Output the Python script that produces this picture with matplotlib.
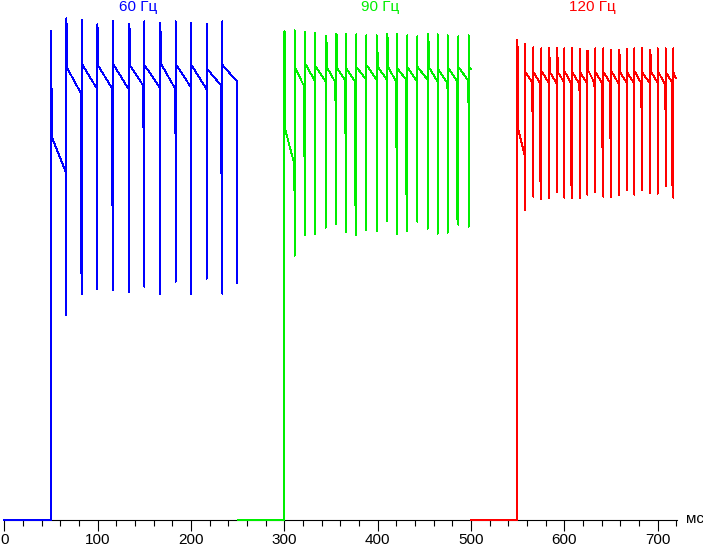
import numpy as np
import matplotlib
matplotlib.use("Agg")
import matplotlib.pyplot as plt
from matplotlib.ticker import MultipleLocator

# values are brightness in arbitrary units (0 = black), time in ms
# each frame: spike at t, top/bottom of the spike, an optional extra sample
# right after the spike, level at frame start and level just before next spike,
# and an optional dip sample just before the spike

blue_t = [50.0, 66.4, 83.2, 99.6, 116.5, 133.3, 150.0, 166.8, 183.6, 200.3, 216.8, 233.6]
blue_top = [97.8, 100.4, 100.0, 99.2, 99.8, 99.3, 99.8, 99.5, 99.8, 99.5, 99.3, 99.8]
blue_bottom = [0.0, 41.1, 45.3, 46.3, 46.1, 45.7, 46.7, 45.3, 47.7, 45.3, 48.3, 45.3]
blue_after = [79.4, 97.3, None, 97.3, None, 98.2, None, 96.4, None, None, None, None]
blue_start = [76.6, 90.4, 91.3, 90.9, 91.3, 91.1, 91.1, 91.3, 91.3, 91.1, 90.4, 91.1]
blue_end = [69.4, 85.4, 86.2, 86.4, 86.2, 86.9, 86.5, 86.5, 86.5, 86.2, 86.9, 87.7]
blue_dip = [None, None, 49.5, None, 63.0, None, 78.7, None, 77.4, None, None, 69.4]
blue_stop = (249.6, 47.5)

green_t = [300.0, 311.1, 322.5, 333.2, 344.3, 355.4, 366.1, 377.1, 387.8, 399.0,
           410.0, 421.0, 431.7, 442.5, 453.6, 464.3, 475.0, 486.4, 497.5]
green_top = [97.8, 98.0, 97.7, 97.5, 96.9, 97.2, 97.3, 97.2, 97.0, 97.0,
             97.2, 97.3, 97.0, 96.8, 97.3, 97.2, 97.0, 96.8, 97.0]
green_bottom = [0.0, 52.9, 57.0, 57.2, 58.5, 59.3, 57.7, 57.0, 58.0, 57.9,
                59.9, 57.3, 57.9, 59.7, 58.3, 57.3, 57.5, 59.1, 58.7]
green_after = [97.7, None, None, None, 95.5, 97.0, None, None, None, 93.0,
               96.1, None, None, None, 95.5, None, None, None, None]
green_start = [78.1, 90.7, 91.3, 90.9, 90.7, 90.4, 90.4, 90.7, 91.1, 90.7,
               90.7, 90.4, 90.7, 90.7, 90.7, 90.4, 90.7, 90.7, 90.7]
green_end = [71.7, 86.7, 87.7, 87.7, 87.7, 88.1, 87.7, 88.1, 88.1, 88.1,
             87.7, 88.1, 87.7, 88.1, 87.7, 87.7, 87.7, 88.1, 90.2]
green_dip = [None, 66.1, 72.9, None, None, 84.0, 77.4, 63.1, None, None,
             None, 74.7, 65.3, None, None, None, 86.5, 60.2, 83.7]
green_stop = 499.8

red_t = [549.6, 558.2, 566.8, 575.3, 583.3, 591.9, 600.0, 608.3, 616.5, 624.7, 633.2,
         641.8, 650.0, 658.3, 666.9, 675.0, 683.2, 691.8, 700.0, 708.6, 716.8]
red_top = [96.1, 95.3, 94.6, 94.4, 94.4, 94.4, 94.4, 94.4, 94.3, 93.9, 94.4,
           94.4, 94.1, 94.1, 94.3, 94.4, 94.4, 94.1, 94.4, 94.4, 94.4]
red_bottom = [0.0, 62.0, 64.7, 64.3, 64.5, 65.7, 64.5, 64.4, 64.5, 65.1, 65.6,
              64.7, 64.7, 65.1, 66.1, 65.1, 66.0, 65.5, 65.3, 66.9, 64.5]
red_after = [91.0, None, None, None, 92.2, 92.2, None, None, None, 93.9, None,
             None, None, 93.0, None, None, None, 92.2, None, None, None]
red_start = [78.1, 89.7, 89.7, 89.9, 89.7, 89.7, 89.9, 89.7, 89.7, 89.9, 89.7,
             89.7, 89.9, 89.7, 89.7, 89.9, 89.7, 89.7, 89.9, 89.7, 89.7]
red_end = [72.5, 87.5, 87.3, 87.5, 87.3, 87.5, 87.3, 87.5, 87.3, 87.5, 87.3,
           87.5, 87.3, 87.5, 87.3, 87.5, 87.3, 87.5, 87.3, 87.5, 88.4]
red_dip = [None, None, 81.7, 67.9, None, None, None, 67.0, 86.1, None, 86.7,
           74.5, 76.5, None, None, None, 82.7, None, None, 82.3, 67.0]
red_stop = 719.3

series = [
    ("60 Гц", "#0000ff", 0, blue_t, blue_top, blue_bottom, blue_after, blue_start, blue_end, blue_dip),
    ("90 Гц", "#00ee00", 250, green_t, green_top, green_bottom, green_after, green_start, green_end, green_dip),
    ("120 Гц", "#ff0000", 500, red_t, red_top, red_bottom, red_after, red_start, red_end, red_dip),
]
stops = [blue_stop[0], green_stop, red_stop]
title_x = [143, 403, 630]

DX = 1.07  # one screen pixel in ms


def build_trace(seg0, t, top, bottom, after, start, end, dip, t_stop):
    xs = [seg0]
    ys = [0.0]
    for k in range(len(t)):
        if dip[k] is not None:
            xs += [t[k] - DX, t[k] - DX, t[k]]
            ys += [ys[-1], dip[k], dip[k]]
        else:
            xs.append(t[k])
            ys.append(ys[-1])
        xs += [t[k], t[k]]
        ys += [bottom[k], top[k]]
        if after[k] is not None:
            xs += [t[k] + DX, t[k] + DX]
            ys += [after[k], start[k]]
        else:
            xs.append(t[k])
            ys.append(start[k])
        t_next = t[k + 1] if k + 1 < len(t) else t_stop
        if k + 1 < len(t) and dip[k + 1] is not None:
            t_next -= DX
        xs.append(t_next)
        ys.append(end[k])
    return xs, ys


fig = plt.figure(figsize=(7.03, 5.49), dpi=100)
ax = fig.add_axes([4.3 / 703, 28.7 / 549, 673.0 / 703, 520.3 / 549])

for i, (name, col, seg0, t, top, bot, aft, st, en, dp) in enumerate(series):
    xs, ys = build_trace(seg0, t, top, bot, aft, st, en, dp, stops[i])
    if i == 0:
        xs += [blue_stop[0]]
        ys += [blue_stop[1]]
    ax.plot(xs, ys, color=col, lw=0.6, antialiased=False, clip_on=False, zorder=3)
    ax.text(title_x[i], 102.7, name, color=col, ha="center", va="center",
            fontsize=11, family="Liberation Sans")

ax.set_xlim(0, 721)
ax.set_ylim(0, 104.06)
for s in ["left", "right", "top"]:
    ax.spines[s].set_visible(False)
ax.spines["bottom"].set_linewidth(0.8)
ax.set_yticks([])
ax.xaxis.set_major_locator(MultipleLocator(100))
ax.xaxis.set_minor_locator(MultipleLocator(20))
ax.tick_params(axis="x", which="major", length=8, width=0.8, pad=1.5, labelsize=11)
ax.tick_params(axis="x", which="minor", length=4, width=0.8)
for lab in ax.get_xticklabels():
    lab.set_family("Liberation Sans")
ax.annotate("мс", xy=(1, 0), xycoords="axes fraction", xytext=(6, 1),
            textcoords="offset points", ha="left", va="center",
            fontsize=11, family="Liberation Sans")
ax.patch.set_visible(False)

fig.savefig("out.png", dpi=100)
